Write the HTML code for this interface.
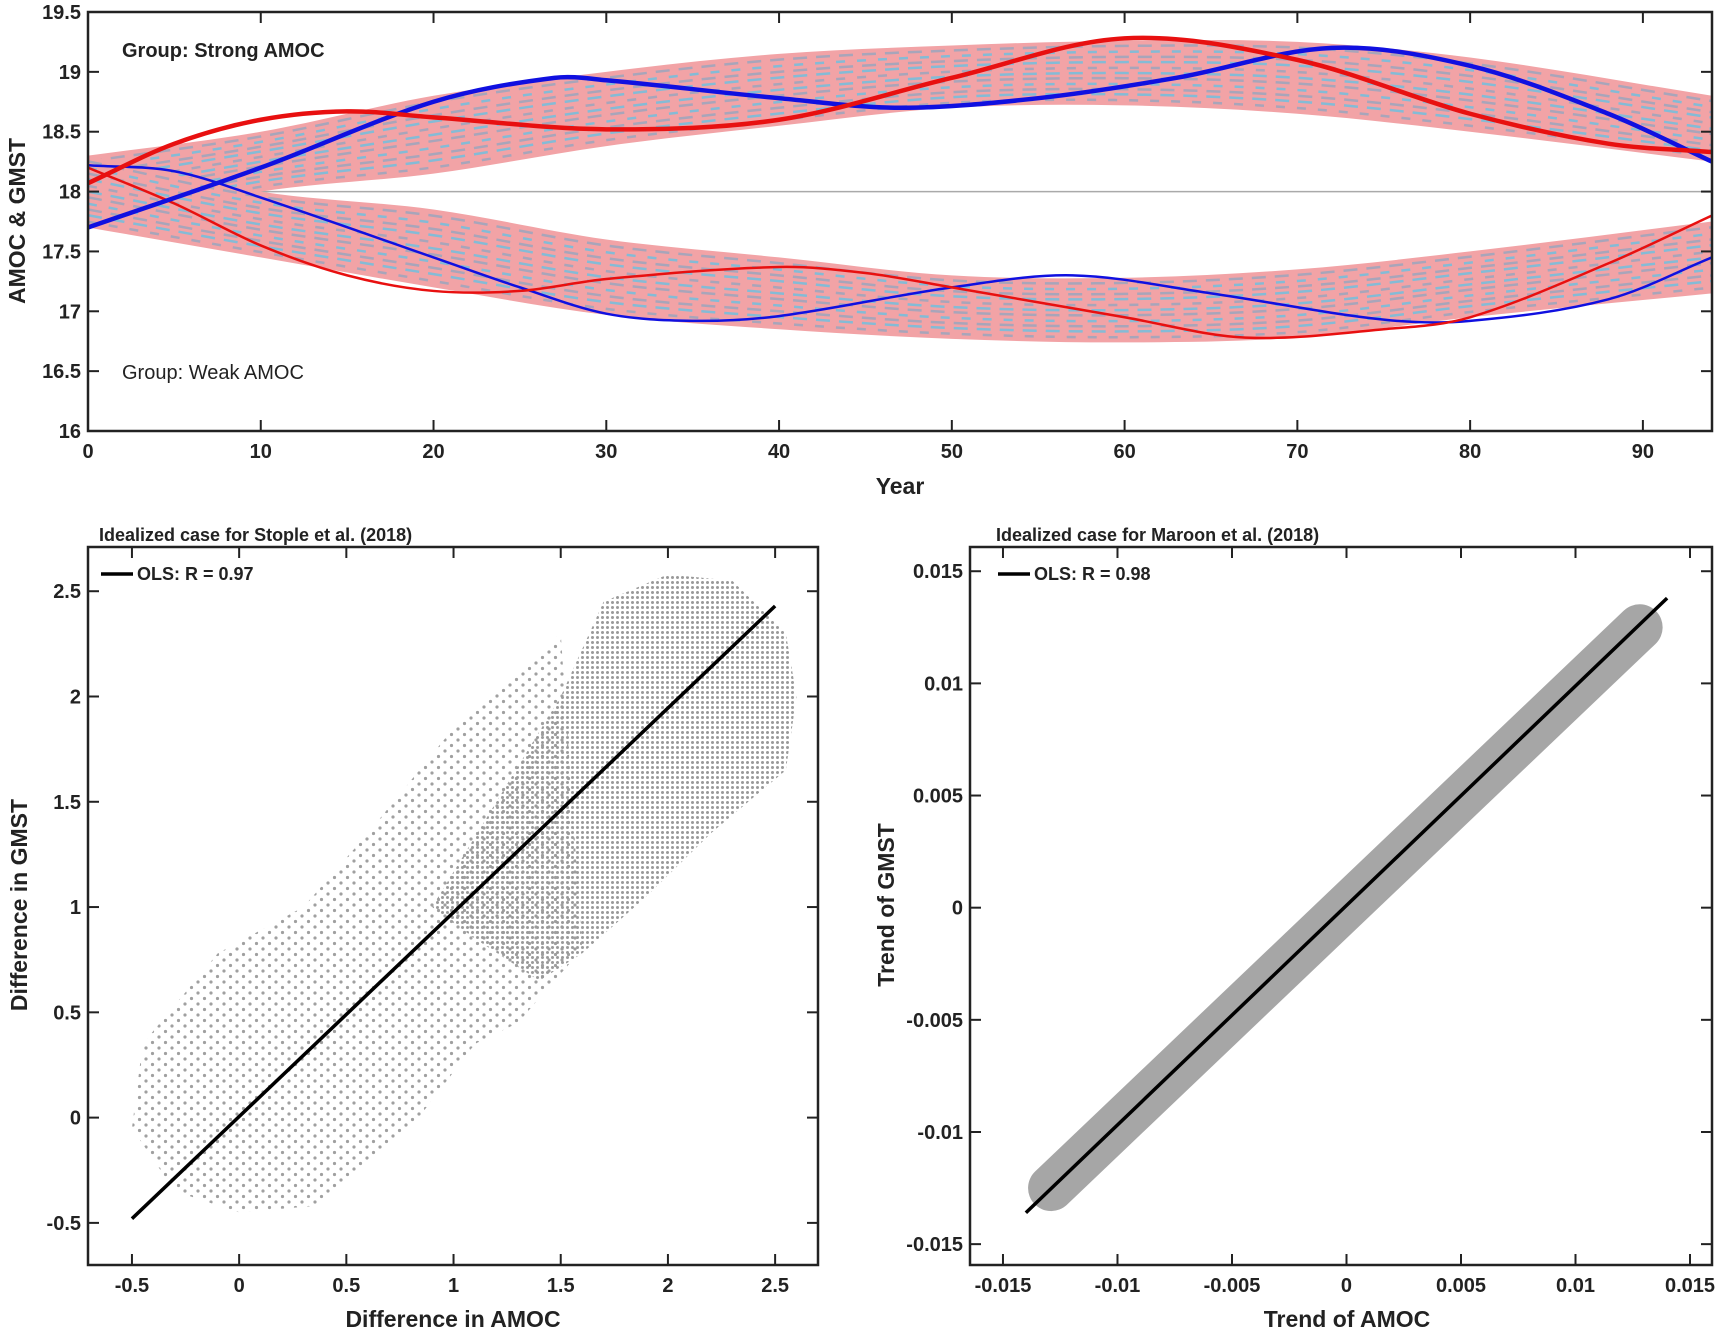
<!DOCTYPE html>
<html><head><meta charset="utf-8"><style>
html,body{margin:0;padding:0;background:#fff;}
svg{display:block;font-family:"Liberation Sans",Arial,sans-serif;}
</style></head><body>
<svg id="fig" width="1725" height="1335" viewBox="0 0 1725 1335" xmlns="http://www.w3.org/2000/svg">
<defs>
<pattern id="dense" width="5" height="5" patternUnits="userSpaceOnUse"><circle cx="2.5" cy="2.5" r="1.5" fill="#9a9a9a"/></pattern>
<pattern id="sparse" width="13" height="11" patternUnits="userSpaceOnUse"><circle cx="3" cy="3" r="1.6" fill="#a0a0a0"/><circle cx="9.5" cy="8.5" r="1.6" fill="#a0a0a0"/></pattern>
</defs>
</svg>
<script>
// ---------- Top panel data ----------
const years = [0,10,20,30,40,50,60,70,80,94];
const strongTop = [18.3,18.5,18.8,19.0,19.15,19.22,19.26,19.25,19.12,18.8];
const strongBot = [17.7,18.0,18.15,18.38,18.55,18.7,18.72,18.65,18.5,18.25];
const weakTop = [18.3,18.0,17.85,17.6,17.45,17.3,17.28,17.35,17.5,17.75];
const weakBot = [17.7,17.45,17.2,16.97,16.85,16.77,16.74,16.78,16.95,17.15];
const stripeFrac = [0.08,0.17,0.25,0.33,0.42,0.5,0.58,0.67,0.75,0.83,0.92];
const blueThickX = [0,10,20,27,30,40,47,55,63,72,80,88,94];
const blueThickY = [17.7,18.2,18.75,18.95,18.93,18.78,18.7,18.78,18.95,19.2,19.05,18.65,18.25];
const redThickX = [0,5,10,15,20,30,40,50,60,70,80,88,94];
const redThickY = [18.07,18.4,18.6,18.67,18.62,18.52,18.6,18.95,19.28,19.1,18.65,18.4,18.33];
const blueThinX = [0,5,10,20,25,30,35,40,50,57,65,75,80,88,94];
const blueThinY = [18.22,18.17,17.95,17.45,17.2,16.98,16.92,16.96,17.2,17.3,17.15,16.93,16.92,17.1,17.45];
const redThinX = [0,5,10,15,20,25,30,40,45,50,60,67,75,80,88,94];
const redThinY = [18.2,17.9,17.55,17.3,17.17,17.17,17.27,17.37,17.32,17.2,16.95,16.78,16.85,16.95,17.4,17.8];
const topXTicks = [0,10,20,30,40,50,60,70,80,90];
const topYTicks = [16,16.5,17,17.5,18,18.5,19,19.5];
const topYLabels = ["16","16.5","17","17.5","18","18.5","19","19.5"];
// ---------- Bottom-left data ----------
const denseCloudX = [0.9,1.2,1.5,1.7,2.0,2.3,2.55,2.6,2.55,2.2,1.9,1.6,1.4,1.1];
const denseCloudY = [1.0,1.5,2.0,2.45,2.58,2.55,2.3,2.0,1.65,1.35,1.05,0.78,0.65,0.85];
const sparseCloudX = [-0.45,-0.1,0.3,0.6,1.0,1.5,1.6,1.3,1.1,0.8,0.6,0.35,0.0,-0.3,-0.5];
const sparseCloudY = [0.35,0.78,1.0,1.35,1.85,2.3,0.8,0.45,0.35,-0.05,-0.2,-0.42,-0.45,-0.35,-0.05];
const olsLeftX = [-0.5,2.5];
const olsLeftY = [-0.48,2.43];
const blXTicks = [-0.5,0,0.5,1,1.5,2,2.5];
const blXLabels = ["-0.5","0","0.5","1","1.5","2","2.5"];
const blYTicks = [-0.5,0,0.5,1,1.5,2,2.5];
const blYLabels = ["-0.5","0","0.5","1","1.5","2","2.5"];
// ---------- Bottom-right data ----------
const bandX = [-0.0129,0.0128];
const bandY = [-0.0125,0.0125];
const olsRightX = [-0.014,0.014];
const olsRightY = [-0.0136,0.0138];
const brTicks = [-0.015,-0.01,-0.005,0,0.005,0.01,0.015];
const brLabels = ["-0.015","-0.01","-0.005","0","0.005","0.01","0.015"];

const svg = document.getElementById('fig');
const NS = 'http://www.w3.org/2000/svg';
function mk(tag, attrs, parent){
  const e = document.createElementNS(NS, tag);
  for (const k in attrs) e.setAttribute(k, attrs[k]);
  (parent||svg).appendChild(e);
  return e;
}
function scale(d0,d1,r0,r1){ return v => r0 + (v-d0)/(d1-d0)*(r1-r0); }
// x-monotone cubic Hermite curve through pixel points
function smoothSeg(pts){
  const n = pts.length, m = [];
  for (let i=0;i<n;i++){
    const a = pts[Math.max(0,i-1)], b = pts[Math.min(n-1,i+1)];
    m.push((b[1]-a[1])/(b[0]-a[0]));
  }
  let d = '';
  for (let i=0;i<n-1;i++){
    const p1=pts[i], p2=pts[i+1], h=(p2[0]-p1[0])/3;
    d += ' C'+(p1[0]+h)+' '+(p1[1]+m[i]*h)+' '+(p2[0]-h)+' '+(p2[1]-m[i+1]*h)+' '+p2[0]+' '+p2[1];
  }
  return d;
}
function smooth(pts){ return 'M'+pts[0][0]+' '+pts[0][1]+smoothSeg(pts); }
function smoothRev(pts){
  // pts given left-to-right; draw right-to-left
  const n=pts.length, m=[];
  for (let i=0;i<n;i++){
    const a = pts[Math.max(0,i-1)], b = pts[Math.min(n-1,i+1)];
    m.push((b[1]-a[1])/(b[0]-a[0]));
  }
  let d='';
  for (let i=n-1;i>0;i--){
    const p1=pts[i], p2=pts[i-1], h=(p1[0]-p2[0])/3;
    d += ' C'+(p1[0]-h)+' '+(p1[1]-m[i]*h)+' '+(p2[0]+h)+' '+(p2[1]+m[i-1]*h)+' '+p2[0]+' '+p2[1];
  }
  return d;
}
function frame(L,T,R,B,name,xt,xs,yt,ys){
  const g = mk('g',{});
  
  
  xt.forEach(v=>{ const x=xs(v);
    mk('line',{x1:x,y1:B,x2:x,y2:B-11,stroke:'#222','stroke-width':2},g);
    mk('line',{x1:x,y1:T,x2:x,y2:T+11,stroke:'#222','stroke-width':2},g);});
  yt.forEach(v=>{ const y=ys(v);
    mk('line',{x1:L,y1:y,x2:L+11,y2:y,stroke:'#222','stroke-width':2},g);
    mk('line',{x1:R,y1:y,x2:R-11,y2:y,stroke:'#222','stroke-width':2},g);});
  mk('rect',{x:L,y:T,width:R-L,height:B-T,fill:'none',stroke:'#222','stroke-width':2.5},g);
}
function text(x,y,s,opt,name){
  const t = mk('text',Object.assign({x:x,y:y,'font-size':20,'font-weight':'bold',fill:'#222'},opt||{}));
  t.textContent = s;
  
  
  return t;
}

// ===== Top panel =====
(function(){
  const L=88,T=12,R=1712,B=431;
  const xs=scale(0,94,L,R), ys=scale(16,19.5,B,T);
  const clip = mk('clipPath',{id:'ctop'}); mk('rect',{x:L,y:T,width:R-L,height:B-T},clip);
  const g = mk('g',{'clip-path':'url(#ctop)'});
  
  
  mk('line',{x1:L,y1:ys(18),x2:R,y2:ys(18),stroke:'#aaa','stroke-width':1.5},g);
  function band(top,bot,name){
    const up = years.map((x,i)=>[xs(x),ys(top[i])]);
    const lo = years.map((x,i)=>[xs(x),ys(bot[i])]);
    const d = smooth(up) + ' L' + lo[lo.length-1][0]+' '+lo[lo.length-1][1] + smoothRev(lo) + ' Z';
    const p = mk('path',{d:d,fill:'#f2a3a6',stroke:'none'},g);
    
    
    stripeFrac.forEach((f,k)=>{
      const pts = years.map((x,i)=>[xs(x),ys(bot[i]+(top[i]-bot[i])*f)]);
      const s = mk('path',{d:smooth(pts),fill:'none',stroke:k%2?'#5fc3e6':'#8fa6c0','stroke-width':2.5,'stroke-dasharray':(k%3?'14 9':'9 12'),opacity:0.75},g);
      
      
    });
  }
  band(strongTop,strongBot,'strong-amoc-ensemble-band');
  band(weakTop,weakBot,'weak-amoc-ensemble-band');
  function curve(X,Y,col,w,name){
    const p = mk('path',{d:smooth(X.map((x,i)=>[xs(x),ys(Y[i])])),fill:'none',stroke:col,'stroke-width':w},g);
    
    
  }
  curve(blueThinX,blueThinY,'#1010e0',2.5,'weak-amoc-blue-line');
  curve(redThinX,redThinY,'#e81010',2.5,'weak-gmst-red-line');
  curve(blueThickX,blueThickY,'#1010e0',4.5,'strong-amoc-blue-line');
  curve(redThickX,redThickY,'#e81010',4.5,'strong-gmst-red-line');
  frame(L,T,R,B,'top',topXTicks,xs,topYTicks,ys);
  topXTicks.forEach(v=>text(xs(v),458,String(v),{'text-anchor':'middle'},'x-tick-label'));
  topYTicks.forEach((v,i)=>text(81,ys(v)+7,topYLabels[i],{'text-anchor':'end'},'y-tick-label'));
  text(900,494,'Year',{'text-anchor':'middle','font-size':23},'x-axis-title');
  text(0,0,'AMOC & GMST',{'text-anchor':'middle','font-size':23,transform:'translate(25,221) rotate(-90)'},'y-axis-title');
  text(122,57,'Group: Strong AMOC',{},'strong-group-label');
  text(122,379,'Group: Weak AMOC',{'font-weight':'normal'},'weak-group-label');
})();

// ===== Bottom-left panel =====
(function(){
  const L=88,T=547,R=818,B=1265;
  const xs=scale(-0.705,2.7,L,R), ys=scale(-0.7,2.71,B,T);
  const s = mk('polygon',{points:sparseCloudX.map((x,i)=>xs(x)+','+ys(sparseCloudY[i])).join(' '),fill:'url(#sparse)'});
  
  
  const d = mk('polygon',{points:denseCloudX.map((x,i)=>xs(x)+','+ys(denseCloudY[i])).join(' '),fill:'url(#dense)'});
  
  
  const l = mk('line',{x1:xs(olsLeftX[0]),y1:ys(olsLeftY[0]),x2:xs(olsLeftX[1]),y2:ys(olsLeftY[1]),stroke:'#000','stroke-width':3.5});
  
  
  frame(L,T,R,B,'bottom-left',blXTicks,xs,blYTicks,ys);
  blXTicks.forEach((v,i)=>text(xs(v),1292,blXLabels[i],{'text-anchor':'middle'},'x-tick-label'));
  blYTicks.forEach((v,i)=>text(81,ys(v)+7,blYLabels[i],{'text-anchor':'end'},'y-tick-label'));
  text(453,1327,'Difference in AMOC',{'text-anchor':'middle','font-size':23},'x-axis-title');
  text(0,0,'Difference in GMST',{'text-anchor':'middle','font-size':23,transform:'translate(27,905) rotate(-90)'},'y-axis-title');
  text(99,541,'Idealized case for Stople et al. (2018)',{'font-size':18},'panel-title');
  const lg = mk('line',{x1:101,y1:574,x2:133,y2:574,stroke:'#000','stroke-width':3.5});
  
  
  text(137,580,'OLS: R = 0.97',{'font-size':18},'legend-label');
})();

// ===== Bottom-right panel =====
(function(){
  const L=970,T=547,R=1712,B=1265;
  const xs=scale(-0.01644,0.01596,L,R), ys=scale(-0.01593,0.01608,B,T);
  const b = mk('line',{x1:xs(bandX[0]),y1:ys(bandY[0]),x2:xs(bandX[1]),y2:ys(bandY[1]),stroke:'#a6a6a6','stroke-width':46,'stroke-linecap':'round'});
  
  
  const l = mk('line',{x1:xs(olsRightX[0]),y1:ys(olsRightY[0]),x2:xs(olsRightX[1]),y2:ys(olsRightY[1]),stroke:'#000','stroke-width':3.5});
  
  
  frame(L,T,R,B,'bottom-right',brTicks,xs,brTicks,ys);
  brTicks.forEach((v,i)=>text(xs(v),1292,brLabels[i],{'text-anchor':'middle'},'x-tick-label'));
  brTicks.forEach((v,i)=>text(963,ys(v)+7,brLabels[i],{'text-anchor':'end'},'y-tick-label'));
  text(1347,1327,'Trend of AMOC',{'text-anchor':'middle','font-size':23},'x-axis-title');
  text(0,0,'Trend of GMST',{'text-anchor':'middle','font-size':23,transform:'translate(894,905) rotate(-90)'},'y-axis-title');
  text(996,541,'Idealized case for Maroon et al. (2018)',{'font-size':18},'panel-title');
  const lg = mk('line',{x1:998,y1:574,x2:1030,y2:574,stroke:'#000','stroke-width':3.5});
  
  
  text(1034,580,'OLS: R = 0.98',{'font-size':18},'legend-label');
})();
</script>
</body></html>
